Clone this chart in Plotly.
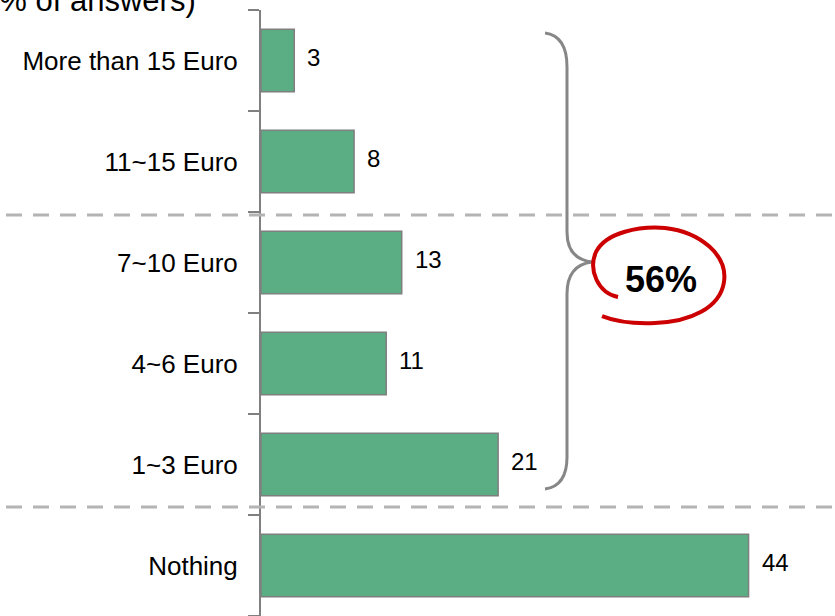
import plotly.graph_objects as go

categories = ["Nothing", "1~3 Euro", "4~6 Euro", "7~10 Euro", "11~15 Euro", "More than 15 Euro"]
values = [44.0, 21.4, 11.3, 12.7, 8.4, 3.0]
value_labels = ["44", "21", "11", "13", "8", "3"]
title_text = "(% of answers)"
share_text = "56%"

W, H = 835, 616
L, T = 261, 10
PW, PH = W - L, H - T


def pp(x, y):
    # pixel position -> paper coords of the plot area
    return "%.4f,%.4f" % ((x - L) / PW, (H - y) / PH)


fig = go.Figure()
fig.add_trace(go.Bar(
    y=categories, x=values, orientation="h", width=0.62,
    marker=dict(color="#5BAD84", line=dict(color="#7F7F7F", width=1.5)),
    hoverinfo="skip",
))

for c, v, t in zip(categories, values, value_labels):
    fig.add_annotation(x=v, y=c, text=t, showarrow=False, xanchor="left",
                       xshift=11, yshift=3, font=dict(size=24, color="black"))

# dashed separators
for py in (215, 507):
    fig.add_shape(type="line", xref="paper", yref="paper",
                  x0=(6 - L) / PW, x1=1.0, y0=(H - py) / PH, y1=(H - py) / PH,
                  line=dict(color="#B4B4B4", width=3, dash="16px,11px"))

# curly brace
brace = ("M " + pp(545, 33) + " Q " + pp(567, 36) + " " + pp(567, 67) +
         " L " + pp(567, 232) + " Q " + pp(567, 259) + " " + pp(592, 262) +
         " Q " + pp(567, 265) + " " + pp(567, 294) +
         " L " + pp(567, 457) + " Q " + pp(567, 486) + " " + pp(545, 489))
fig.add_shape(type="path", xref="paper", yref="paper", path=brace,
              line=dict(color="#878787", width=3))

# hand-drawn red loop
loop = ("M " + pp(618, 297) +
        " C " + pp(598, 293) + " " + pp(588, 270) + " " + pp(596, 252) +
        " C " + pp(606, 232) + " " + pp(640, 226) + " " + pp(665, 228) +
        " C " + pp(700, 232) + " " + pp(728, 255) + " " + pp(724, 282) +
        " C " + pp(720, 308) + " " + pp(690, 322) + " " + pp(655, 323) +
        " C " + pp(630, 324) + " " + pp(612, 320) + " " + pp(602, 316))
fig.add_shape(type="path", xref="paper", yref="paper", path=loop,
              line=dict(color="#CC0000", width=4))

fig.add_annotation(xref="paper", yref="paper", x=(661 - L) / PW, y=(H - 279) / PH,
                   xanchor="center", yanchor="middle",
                   text="<b>" + share_text + "</b>", showarrow=False,
                   font=dict(size=36, color="black"))

fig.add_annotation(xref="paper", yref="paper", x=(198 - L) / PW, y=(H - 1) / PH,
                   xanchor="right", yanchor="middle", text=title_text, showarrow=False,
                   font=dict(size=31, color="black"))

fig.update_layout(
    width=W, height=H,
    margin=dict(l=L, r=0, t=T, b=0),
    paper_bgcolor="white", plot_bgcolor="white",
    showlegend=False, bargap=0.38,
    font=dict(family="Liberation Sans, Arial, sans-serif", size=26, color="black"),
    xaxis=dict(range=[0, 51.8], visible=False, fixedrange=True),
    yaxis=dict(type="category", categoryorder="array", categoryarray=categories,
               range=[-0.5, 5.5], showline=True, linecolor="#808080", linewidth=2,
               ticks="outside", ticklen=11, tickwidth=2, tickcolor="#808080",
               tickson="boundaries", showgrid=False, ticklabelstandoff=16,
               tickfont=dict(size=26, color="black"), fixedrange=True),
)

fig.write_html("out.html", config={"displayModeBar": False},
               post_script="document.body.style.margin='0';")
